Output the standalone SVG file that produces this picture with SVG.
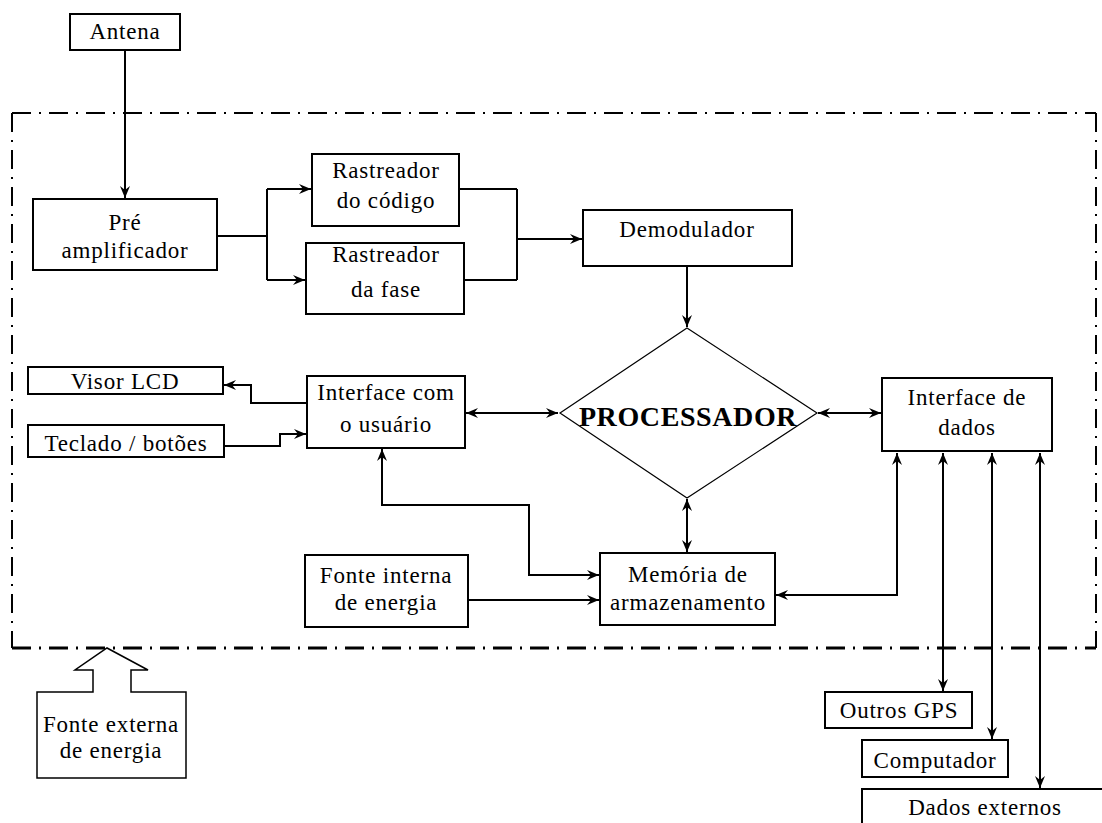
<svg xmlns="http://www.w3.org/2000/svg" width="1102" height="823" viewBox="0 0 1102 823">
<style>
.bx{fill:#fff;stroke:#000;stroke-width:2}
.t{font-family:'Liberation Serif','DejaVu Serif',serif;font-size:23px;letter-spacing:0.8px;text-anchor:middle;fill:#000}
.pb{font-family:'Liberation Serif','DejaVu Serif',serif;font-size:28px;font-weight:bold;letter-spacing:0.6px;text-anchor:middle;fill:#000}
.c{fill:none;stroke:#000;stroke-width:2}
.a{marker-end:url(#ah)}
.aa{marker-end:url(#ah);marker-start:url(#ah)}
.bd{fill:none;stroke:#000;stroke-dasharray:19 8 2 8}
</style>
<defs>
<marker id="ah" viewBox="0 0 12 10" refX="12" refY="5" markerWidth="12" markerHeight="10" markerUnits="userSpaceOnUse" orient="auto-start-reverse">
<path d="M0,0 L12,5 L0,10 L4,5 Z" fill="#000"/>
</marker>
</defs>
<rect width="1102" height="823" fill="#fff"/>
<g id="boundary">
<line class="bd" x1="12" y1="113" x2="1096" y2="113" stroke-width="2"/>
<line class="bd" x1="12" y1="113" x2="12" y2="648" stroke-width="2"/>
<line class="bd" x1="1096" y1="113" x2="1096" y2="648" stroke-width="2"/>
<line class="bd" x1="12" y1="648" x2="1096" y2="648" stroke-width="3"/>
</g>
<g id="connectors">
<path class="c a" d="M125,50 V198"/>
<path class="c" d="M217,236 H267 M267,189 V280"/>
<path class="c a" d="M267,189 H311"/>
<path class="c a" d="M267,280 H305"/>
<path class="c" d="M459,189 H517 M464,280 H517 M517,189 V280"/>
<path class="c a" d="M517,239 H582"/>
<path class="c a" d="M687,266 V327"/>
<path class="c aa" d="M466,413 H558"/>
<path class="c aa" d="M818,413 H881"/>
<path class="c aa" d="M687,499 V552"/>
<path class="c a" d="M307,403 H251 V385 H224"/>
<path class="c a" d="M224,446 H280 V434 H306"/>
<path class="c aa" d="M382,449 V505 H529 V575 H599"/>
<path class="c a" d="M468,600 H599"/>
<path class="c aa" d="M897,453 V595 H776"/>
<path class="c aa" d="M943,453 V691"/>
<path class="c aa" d="M992,453 V739"/>
<path class="c aa" d="M1040,453 V788"/>
</g>
<g id="antena"><rect class="bx" x="70" y="14" width="110" height="36"/><text class="t" x="125" y="39">Antena</text></g>
<g id="pre"><rect class="bx" x="33" y="199" width="184" height="71"/><text class="t" x="125" y="230">Pré</text><text class="t" x="125" y="258">amplificador</text></g>
<g id="rast-codigo"><rect class="bx" x="312" y="154" width="147" height="72"/><text class="t" x="386" y="178">Rastreador</text><text class="t" x="386" y="208">do código</text></g>
<g id="rast-fase"><rect class="bx" x="306" y="243" width="158" height="71"/><text class="t" x="386" y="262">Rastreador</text><text class="t" x="386" y="297">da fase</text></g>
<g id="demod"><rect class="bx" x="583" y="210" width="209" height="56"/><text class="t" x="687" y="237">Demodulador</text></g>
<g id="processador"><polygon points="687,328 817,413 687,498 560,413" fill="#fff" stroke="#000" stroke-width="1.2"/><text class="pb" x="688" y="426">PROCESSADOR</text></g>
<g id="visor"><rect class="bx" x="28" y="367" width="195" height="27"/><text class="t" x="125" y="389">Visor LCD</text></g>
<g id="teclado"><rect class="bx" x="28" y="425" width="196" height="32"/><text class="t" x="126" y="451">Teclado / botões</text></g>
<g id="iface-usuario"><rect class="bx" x="307" y="376" width="158" height="72"/><text class="t" x="386" y="400">Interface com</text><text class="t" x="386" y="432">o usuário</text></g>
<g id="iface-dados"><rect class="bx" x="882" y="378" width="170" height="73"/><text class="t" x="967" y="405">Interface de</text><text class="t" x="967" y="435">dados</text></g>
<g id="fonte-interna"><rect class="bx" x="305" y="555" width="163" height="72"/><text class="t" x="386" y="583">Fonte interna</text><text class="t" x="386" y="610">de energia</text></g>
<g id="memoria"><rect class="bx" x="600" y="553" width="175" height="72"/><text class="t" x="688" y="582">Memória de</text><text class="t" x="688" y="610">armazenamento</text></g>
<g id="fonte-externa"><path d="M93,692 H37 V778 H186 V692 H131 V670 H148 L107,648 L75,670 H93 Z" fill="#fff" stroke="#000" stroke-width="1.5"/><text class="t" x="111" y="732">Fonte externa</text><text class="t" x="111" y="758">de energia</text></g>
<g id="outros-gps"><rect class="bx" x="825" y="692" width="147" height="36"/><text class="t" x="899" y="718">Outros GPS</text></g>
<g id="computador"><rect class="bx" x="862" y="740" width="146" height="37"/><text class="t" x="935" y="768">Computador</text></g>
<g id="dados-externos"><rect class="bx" x="862" y="789" width="246" height="44"/><text class="t" x="985" y="815">Dados externos</text></g>
</svg>
